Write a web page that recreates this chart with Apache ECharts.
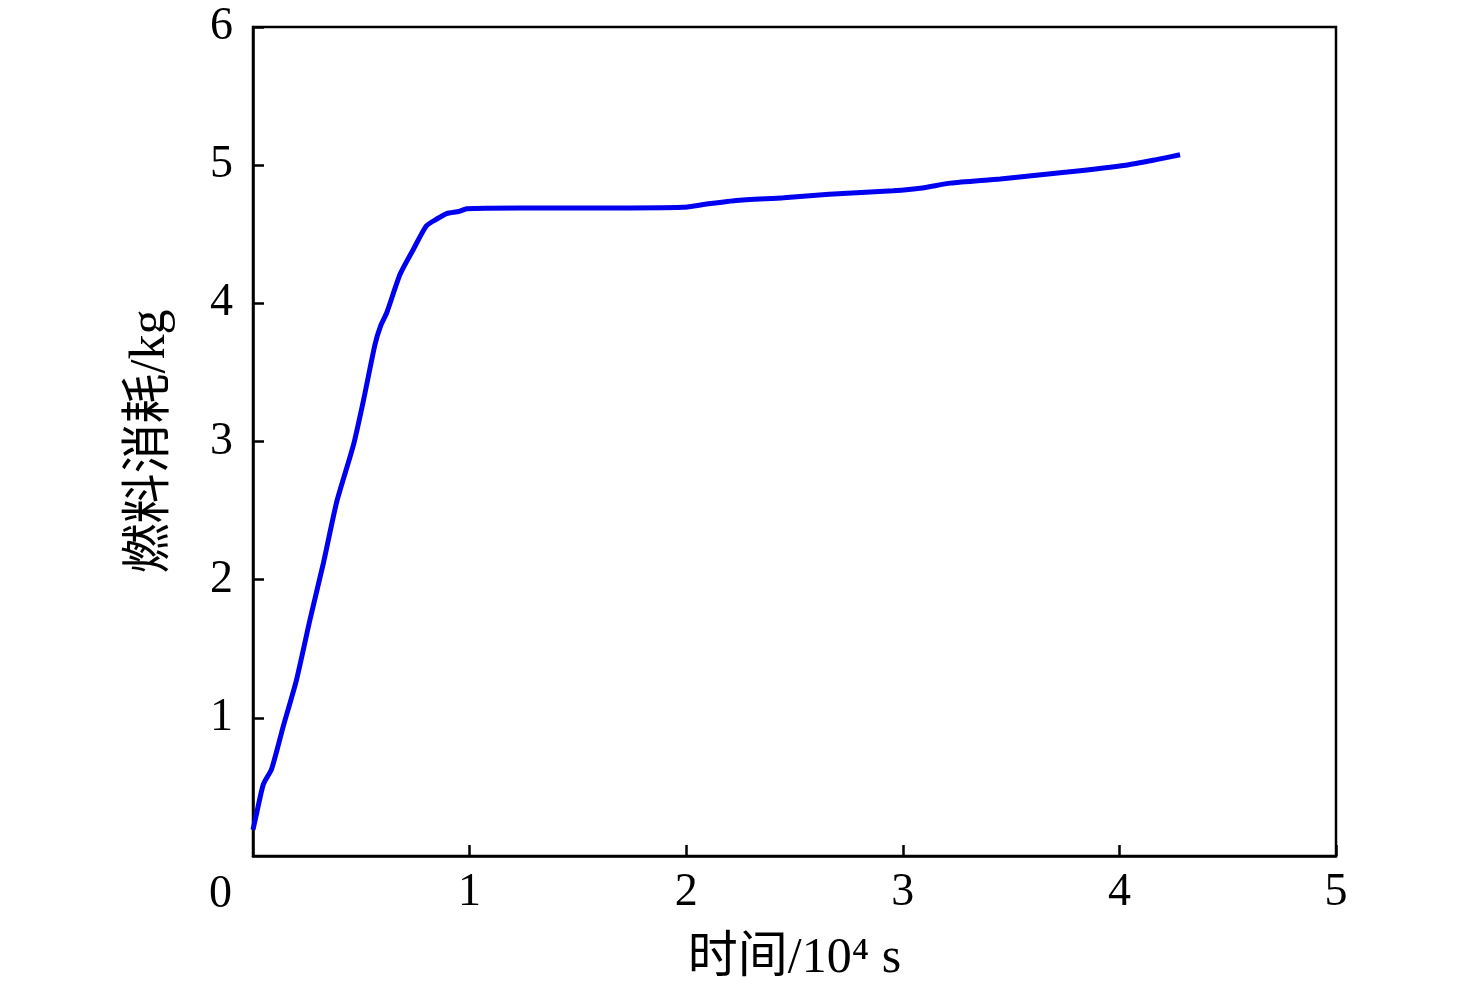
<!DOCTYPE html>
<html>
<head>
<meta charset="utf-8">
<script src="https://cdn.jsdelivr.net/npm/echarts@6/dist/echarts.min.js"></script>
<style>
html, body { margin: 0; padding: 0; background: #fff; }
#main { width: 1476px; height: 998px; }
</style>
</head>
<body>
<div id="main"></div>
<script>
// 时间 (10^4 s)
var timeVals = [0, 0.017, 0.048, 0.086, 0.14, 0.20, 0.263, 0.325, 0.386, 0.463, 0.509, 0.563, 0.59, 0.617, 0.679, 0.74, 0.80, 0.848, 0.894, 0.95, 0.987, 1.23, 1.6, 1.985, 2.1, 2.23, 2.45, 2.66, 2.955, 3.09, 3.22, 3.45, 3.76, 4.03, 4.17, 4.28];
// 燃料消耗 (kg)
var fuelVals = [0.19, 0.31, 0.52, 0.63, 0.94, 1.27, 1.71, 2.12, 2.56, 2.97, 3.29, 3.70, 3.84, 3.93, 4.21, 4.39, 4.56, 4.61, 4.65, 4.665, 4.685, 4.69, 4.69, 4.695, 4.72, 4.745, 4.765, 4.79, 4.815, 4.835, 4.87, 4.90, 4.95, 5.00, 5.04, 5.075];
var xTicks = [0, 5, 1];
var yTicks = [0, 6, 1];

var serif = '"Liberation Serif", "Times New Roman", "Noto Sans CJK SC", serif';
var seriesData = [];
for (var i = 0; i < timeVals.length; i++) {
	seriesData.push([timeVals[i], fuelVals[i]]);
}

var myChart = echarts.init(document.getElementById('main'));
var option = {
	animation: false,
	backgroundColor: '#fff',
	grid: {
		left: 253,
		right: 140,
		top: 27,
		bottom: 142,
		show: true,
		borderColor: '#000',
		borderWidth: 2.5
	},
	xAxis: {
		type: 'value',
		min: xTicks[0],
		max: xTicks[1],
		interval: xTicks[2],
		name: '时间/10⁴ s',
		nameLocation: 'middle',
		nameGap: 78,
		nameTextStyle: { fontFamily: serif, fontSize: 50, color: '#000' },
		axisLine: { show: true, lineStyle: { color: '#000', width: 2.5 } },
		axisTick: { show: true, inside: true, length: 11, lineStyle: { color: '#000', width: 2.5 } },
		axisLabel: { showMinLabel: false, margin: 14, fontFamily: serif, fontSize: 46, color: '#000' },
		splitLine: { show: false }
	},
	yAxis: {
		type: 'value',
		min: yTicks[0],
		max: yTicks[1],
		interval: yTicks[2],
		name: '燃料消耗/kg',
		nameLocation: 'middle',
		nameGap: 77,
		nameTextStyle: { fontFamily: serif, fontSize: 50, color: '#000' },
		axisLine: { show: true, lineStyle: { color: '#000', width: 2.5 } },
		axisTick: { show: true, inside: true, length: 11, lineStyle: { color: '#000', width: 2.5 } },
		axisLabel: { showMinLabel: false, margin: 20, fontFamily: serif, fontSize: 46, color: '#000' },
		splitLine: { show: false }
	},
	graphic: [{
		type: 'text',
		left: 209,
		top: 872,
		style: { text: '0', font: '46px ' + serif, fill: '#000' }
	}],
	series: [{
		type: 'line',
		data: seriesData,
		showSymbol: false,
		smooth: 0.2,
		lineStyle: { color: '#0000f0', width: 5 }
	}]
};
myChart.setOption(option);
</script>
</body>
</html>
